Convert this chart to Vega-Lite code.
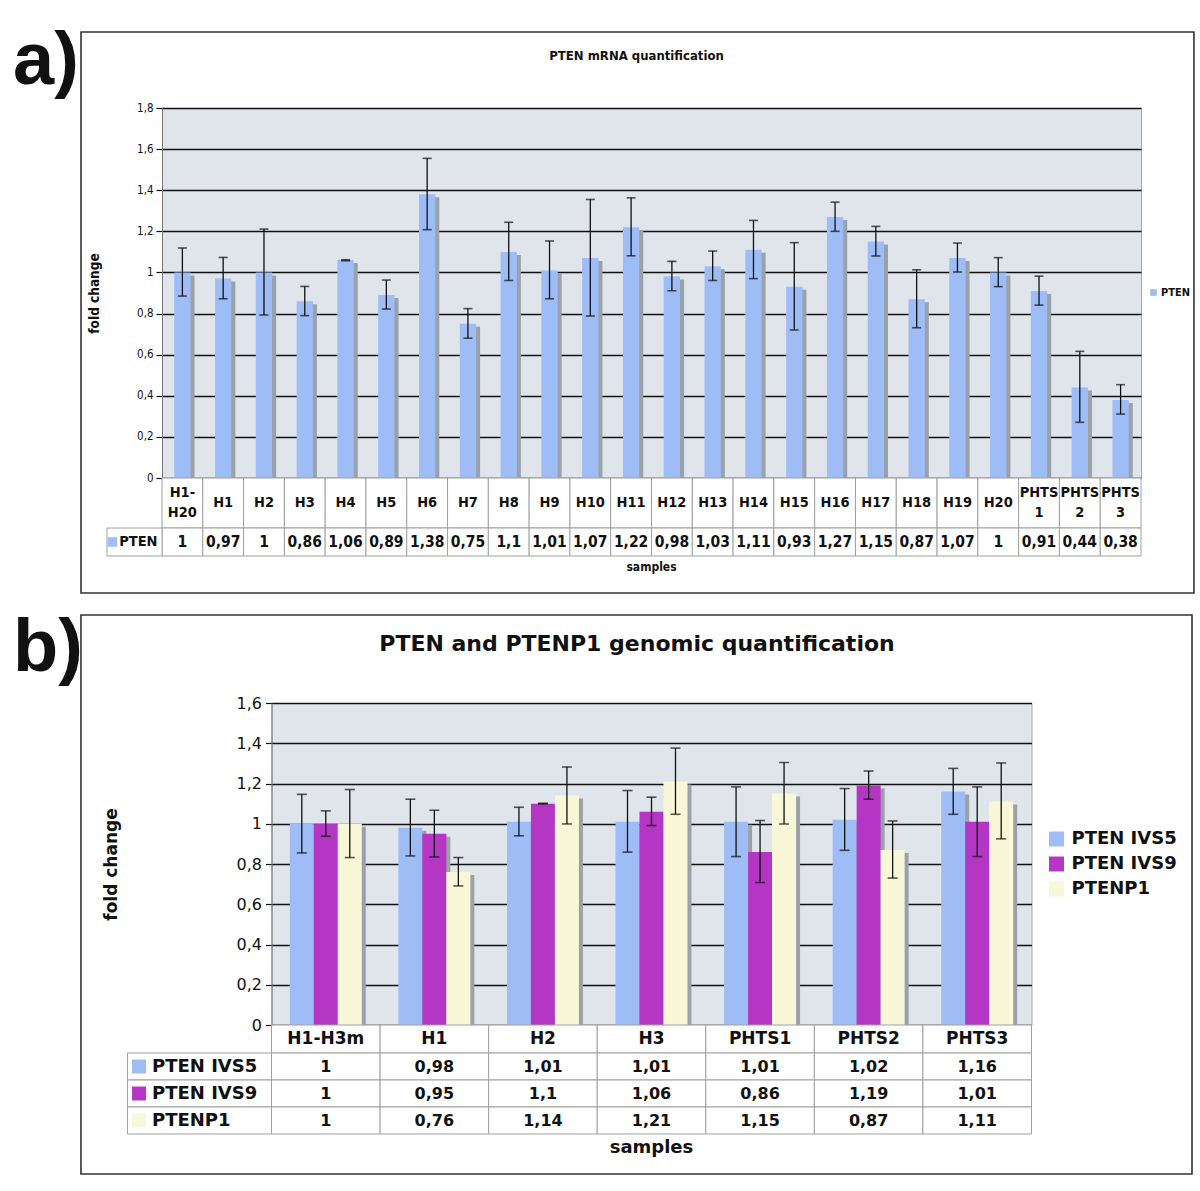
{
  "$schema": "https://vega.github.io/schema/vega-lite/v6.json",
  "padding": {"left": 12, "top": 24, "right": 4, "bottom": 4},
  "background": "#ffffff",
  "config": {
    "locale": {"number": {"decimal": ",", "thousands": ".", "grouping": [3], "currency": ["", " €"]}},
    "axis": {"labelColor": "#111111", "titleColor": "#111111"}
  },
  "datasets": {
    "mrna": [
      {"sample": "H1-\nH20", "value": 1, "lo": 0.885, "hi": 1.119},
      {"sample": "H1", "value": 0.97, "lo": 0.872, "hi": 1.073},
      {"sample": "H2", "value": 1, "lo": 0.793, "hi": 1.211},
      {"sample": "H3", "value": 0.86, "lo": 0.79, "hi": 0.932},
      {"sample": "H4", "value": 1.06, "lo": 1.057, "hi": 1.062},
      {"sample": "H5", "value": 0.89, "lo": 0.822, "hi": 0.963},
      {"sample": "H6", "value": 1.38, "lo": 1.208, "hi": 1.555},
      {"sample": "H7", "value": 0.75, "lo": 0.68, "hi": 0.824},
      {"sample": "H8", "value": 1.1, "lo": 0.961, "hi": 1.244},
      {"sample": "H9", "value": 1.01, "lo": 0.872, "hi": 1.153},
      {"sample": "H10", "value": 1.07, "lo": 0.788, "hi": 1.355},
      {"sample": "H11", "value": 1.22, "lo": 1.081, "hi": 1.363},
      {"sample": "H12", "value": 0.98, "lo": 0.911, "hi": 1.054},
      {"sample": "H13", "value": 1.03, "lo": 0.961, "hi": 1.104},
      {"sample": "H14", "value": 1.11, "lo": 0.97, "hi": 1.253},
      {"sample": "H15", "value": 0.93, "lo": 0.72, "hi": 1.145},
      {"sample": "H16", "value": 1.27, "lo": 1.2, "hi": 1.342},
      {"sample": "H17", "value": 1.15, "lo": 1.08, "hi": 1.224},
      {"sample": "H18", "value": 0.87, "lo": 0.731, "hi": 1.013},
      {"sample": "H19", "value": 1.07, "lo": 1.002, "hi": 1.143},
      {"sample": "H20", "value": 1, "lo": 0.931, "hi": 1.072},
      {"sample": "PHTS\n1", "value": 0.91, "lo": 0.841, "hi": 0.982},
      {"sample": "PHTS\n2", "value": 0.44, "lo": 0.271, "hi": 0.616},
      {"sample": "PHTS\n3", "value": 0.38, "lo": 0.311, "hi": 0.454}
    ],
    "geno": [
      {"sample": "H1-H3m", "series": "PTEN IVS5", "value": 1, "lo": 0.855, "hi": 1.146},
      {"sample": "H1-H3m", "series": "PTEN IVS9", "value": 1, "lo": 0.938, "hi": 1.064},
      {"sample": "H1-H3m", "series": "PTENP1", "value": 1, "lo": 0.832, "hi": 1.17},
      {"sample": "H1", "series": "PTEN IVS5", "value": 0.98, "lo": 0.84, "hi": 1.122},
      {"sample": "H1", "series": "PTEN IVS9", "value": 0.95, "lo": 0.835, "hi": 1.067},
      {"sample": "H1", "series": "PTENP1", "value": 0.76, "lo": 0.691, "hi": 0.832},
      {"sample": "H2", "series": "PTEN IVS5", "value": 1.01, "lo": 0.94, "hi": 1.082},
      {"sample": "H2", "series": "PTEN IVS9", "value": 1.1, "lo": 1.098, "hi": 1.102},
      {"sample": "H2", "series": "PTENP1", "value": 1.14, "lo": 0.999, "hi": 1.282},
      {"sample": "H3", "series": "PTEN IVS5", "value": 1.01, "lo": 0.859, "hi": 1.165},
      {"sample": "H3", "series": "PTEN IVS9", "value": 1.06, "lo": 0.991, "hi": 1.132},
      {"sample": "H3", "series": "PTENP1", "value": 1.21, "lo": 1.047, "hi": 1.376},
      {"sample": "PHTS1", "series": "PTEN IVS5", "value": 1.01, "lo": 0.837, "hi": 1.183},
      {"sample": "PHTS1", "series": "PTEN IVS9", "value": 0.86, "lo": 0.708, "hi": 1.016},
      {"sample": "PHTS1", "series": "PTENP1", "value": 1.15, "lo": 0.999, "hi": 1.304},
      {"sample": "PHTS2", "series": "PTEN IVS5", "value": 1.02, "lo": 0.868, "hi": 1.175},
      {"sample": "PHTS2", "series": "PTEN IVS9", "value": 1.19, "lo": 1.122, "hi": 1.262},
      {"sample": "PHTS2", "series": "PTENP1", "value": 0.87, "lo": 0.73, "hi": 1.014},
      {"sample": "PHTS3", "series": "PTEN IVS5", "value": 1.16, "lo": 1.047, "hi": 1.275},
      {"sample": "PHTS3", "series": "PTEN IVS9", "value": 1.01, "lo": 0.837, "hi": 1.183},
      {"sample": "PHTS3", "series": "PTENP1", "value": 1.11, "lo": 0.925, "hi": 1.302}
    ]
  },
  "bounds": "flush",
  "center": true,
  "spacing": 0,
  "resolve": {"scale": {"color": "independent"}},
  "vconcat": [
    {
      "width": 979, "height": 370,
      "view": {"fill": "#dfe5eb", "stroke": "#a9a9a9"},
      "layer": [
        {
          "data": {"values": [{"panel": "a)", "title": "PTEN mRNA quantification"}]},
          "layer": [
            {"mark": {"type": "rect", "filled": false, "color": "#333333", "strokeWidth": 1.6},
             "encoding": {
               "x": {"datum": -0.0827, "type": "quantitative", "scale": {"domain": [0, 1]}, "axis": null},
               "x2": {"datum": 1.0541},
               "y": {"datum": 2.1697, "type": "quantitative", "scale": {"domain": [0, 1.8], "nice": false}},
               "y2": {"datum": -0.5595}}},
            {"mark": {"type": "text", "align": "left", "baseline": "top", "font": "Liberation Sans", "fontWeight": "bold", "fontSize": 74, "color": "#111111"},
             "encoding": {
               "x": {"datum": -0.1522, "type": "quantitative"},
               "y": {"datum": 2.199, "type": "quantitative"},
               "text": {"field": "panel"}}},
            {"mark": {"type": "text", "align": "center", "baseline": "middle", "font": "DejaVu Sans Condensed, DejaVu Sans, sans-serif", "fontWeight": "bold", "fontSize": 13, "color": "#111111"},
             "encoding": {
               "x": {"datum": 0.4847, "type": "quantitative"},
               "y": {"datum": 2.053, "type": "quantitative"},
               "text": {"field": "title"}}}
          ]
        },
        {
          "data": {"name": "mrna"},
          "encoding": {
            "x": {"field": "sample", "type": "nominal", "sort": null, "axis": null, "scale": {"paddingInner": 0.6, "paddingOuter": 0.3}}
          },
          "layer": [
            {"mark": {"type": "bar", "color": "#9aa1a8", "xOffset": 4, "yOffset": 3},
             "encoding": {"y": {"field": "value", "type": "quantitative"}}},
            {"mark": {"type": "bar"},
             "encoding": {
               "y": {"field": "value", "type": "quantitative", "scale": {"domain": [0, 1.8], "nice": false},
                 "axis": {"values": [0, 0.2, 0.4, 0.6, 0.8, 1, 1.2, 1.4, 1.6, 1.8], "format": "~g", "grid": true, "gridColor": "#111111", "gridWidth": 1.5,
                   "tickColor": "#111111", "tickSize": 6, "tickWidth": 1.2, "domainColor": "#777777",
                   "labelFont": "DejaVu Sans Condensed, DejaVu Sans, sans-serif", "labelFontSize": 11.5, "labelPadding": 3,
                   "title": "fold change", "titleFont": "DejaVu Sans Condensed, DejaVu Sans, sans-serif", "titleFontWeight": "bold", "titleFontSize": 13.5, "titlePadding": 35}},
               "color": {"datum": "PTEN", "type": "nominal", "scale": {"range": ["#9ebdf6"]},
                 "legend": {"orient": "none", "legendX": 986, "legendY": 179, "title": null, "symbolType": "square", "symbolSize": 45, "symbolStrokeWidth": 0,
                   "labelFont": "DejaVu Sans Condensed, DejaVu Sans, sans-serif", "labelFontWeight": "bold", "labelFontSize": 11, "labelOffset": 2, "labelColor": "#111111", "padding": 0}}}},
            {"mark": {"type": "rule", "color": "#111111", "strokeWidth": 1.3},
             "encoding": {"y": {"field": "lo", "type": "quantitative"}, "y2": {"field": "hi"}}},
            {"mark": {"type": "tick", "color": "#111111", "thickness": 1.6, "size": 9},
             "encoding": {"y": {"field": "hi", "type": "quantitative"}}},
            {"mark": {"type": "tick", "color": "#111111", "thickness": 1.6, "size": 9},
             "encoding": {"y": {"field": "lo", "type": "quantitative"}}}
          ]
        }
      ],
      "resolve": {"scale": {"x": "independent"}}
    },
    {
      "width": 979, "height": 50,
      "data": {"name": "mrna"},
      "view": {"stroke": null},
      "encoding": {"x": {"field": "sample", "type": "nominal", "sort": null, "axis": null, "scale": {"paddingInner": 0, "paddingOuter": 0}}},
      "layer": [
        {"mark": {"type": "rect", "fill": "#ffffff", "stroke": "#a0a0a0", "strokeWidth": 1}},
        {"transform": [{"filter": "indexof(datum.sample, '\\n') < 0"}],
         "mark": {"type": "text", "baseline": "middle", "font": "DejaVu Sans Condensed, DejaVu Sans, sans-serif", "fontWeight": "bold", "fontSize": 14.5, "color": "#111111"},
         "encoding": {"text": {"field": "sample"}}},
        {"transform": [{"filter": "indexof(datum.sample, '\\n') >= 0"}],
         "mark": {"type": "text", "baseline": "middle", "lineBreak": "\n", "lineHeight": 20, "dy": -10, "font": "DejaVu Sans Condensed, DejaVu Sans, sans-serif", "fontWeight": "bold", "fontSize": 14.5, "color": "#111111"},
         "encoding": {"text": {"field": "sample"}}}
      ]
    },
    {
      "width": 979, "height": 28,
      "view": {"stroke": null},
      "title": {"text": "samples", "orient": "bottom", "offset": 5, "font": "DejaVu Sans Condensed, DejaVu Sans, sans-serif", "fontWeight": "bold", "fontSize": 12, "color": "#111111"},
      "layer": [
        {
          "data": {"name": "mrna"},
          "encoding": {"x": {"field": "sample", "type": "nominal", "sort": null, "axis": null, "scale": {"paddingInner": 0, "paddingOuter": 0}}},
          "layer": [
            {"mark": {"type": "rect", "fill": "#ffffff", "stroke": "#a0a0a0", "strokeWidth": 1}},
            {"mark": {"type": "text", "baseline": "middle", "font": "DejaVu Sans Condensed, DejaVu Sans, sans-serif", "fontWeight": "bold", "fontSize": 15.5, "color": "#111111"},
             "encoding": {"text": {"field": "value", "type": "quantitative", "format": "~g"}}}
          ]
        },
        {
          "data": {"values": [{"series": "PTEN"}]},
          "layer": [
            {"mark": {"type": "rect", "fill": "#ffffff", "stroke": "#a0a0a0", "strokeWidth": 1},
             "encoding": {"x": {"datum": -0.0562, "type": "quantitative", "scale": {"domain": [0, 1]}, "axis": null}, "x2": {"datum": 0}}},
            {"mark": {"type": "point", "shape": "square", "filled": true, "size": 90, "color": "#9ebdf6", "opacity": 1, "strokeWidth": 0},
             "encoding": {"x": {"datum": -0.0506, "type": "quantitative"}}},
            {"mark": {"type": "text", "align": "left", "baseline": "middle", "font": "DejaVu Sans Condensed, DejaVu Sans, sans-serif", "fontWeight": "bold", "fontSize": 14.5, "color": "#111111"},
             "encoding": {"x": {"datum": -0.0437, "type": "quantitative"}, "text": {"field": "series"}}}
          ]
        }
      ],
      "resolve": {"scale": {"x": "independent"}}
    },
    {"width": 1, "height": 147, "data": {"values": []}, "mark": "text", "view": {"stroke": null}},
    {
      "width": 760, "height": 322,
      "view": {"fill": "#dfe5eb", "stroke": "#a9a9a9"},
      "layer": [
        {
          "data": {"values": [{"panel": "b)", "title": "PTEN and PTENP1 genomic quantification"}]},
          "layer": [
            {"mark": {"type": "rect", "filled": false, "color": "#333333", "strokeWidth": 1.6},
             "encoding": {
               "x": {"datum": -0.2507, "type": "quantitative", "scale": {"domain": [0, 1]}, "axis": null},
               "x2": {"datum": 1.2112},
               "y": {"datum": 2.0373, "type": "quantitative", "scale": {"domain": [0, 1.6], "nice": false}},
               "y2": {"datum": -0.7404}}},
            {"mark": {"type": "text", "align": "left", "baseline": "top", "font": "Liberation Sans", "fontWeight": "bold", "fontSize": 74, "color": "#111111"},
             "encoding": {
               "x": {"datum": -0.3401, "type": "quantitative"},
               "y": {"datum": 2.0472, "type": "quantitative"},
               "text": {"field": "panel"}}},
            {"mark": {"type": "text", "align": "center", "baseline": "middle", "font": "DejaVu Sans, Verdana, sans-serif", "fontWeight": "bold", "fontSize": 22, "color": "#111111"},
             "encoding": {
               "x": {"datum": 0.4809, "type": "quantitative"},
               "y": {"datum": 1.8932, "type": "quantitative"},
               "text": {"field": "title"}}}
          ]
        },
        {
          "data": {"name": "geno"},
          "mark": {"type": "bar", "color": "#9aa1a8", "yOffset": 3},
          "encoding": {
            "x": {"field": "sample", "type": "nominal", "sort": null, "axis": null, "scale": {"paddingInner": 0.337, "paddingOuter": 0.1685, "align": 0.609}},
            "xOffset": {"field": "series", "type": "nominal", "sort": ["PTEN IVS5", "PTEN IVS9", "PTENP1"], "scale": {"paddingInner": 0, "paddingOuter": 0}},
            "y": {"field": "value", "type": "quantitative"}
          }
        },
        {
          "data": {"name": "geno"},
          "encoding": {
            "x": {"field": "sample", "type": "nominal", "sort": null, "axis": null, "scale": {"paddingInner": 0.337, "paddingOuter": 0.1685}},
            "xOffset": {"field": "series", "type": "nominal", "sort": ["PTEN IVS5", "PTEN IVS9", "PTENP1"], "scale": {"paddingInner": 0, "paddingOuter": 0}}
          },
          "layer": [
            {"mark": {"type": "bar"},
             "encoding": {
               "y": {"field": "value", "type": "quantitative", "scale": {"domain": [0, 1.6], "nice": false},
                 "axis": {"values": [0, 0.2, 0.4, 0.6, 0.8, 1, 1.2, 1.4, 1.6], "format": "~g", "grid": true, "gridColor": "#111111", "gridWidth": 1.5,
                   "tickColor": "#111111", "tickSize": 6, "tickWidth": 1.2, "domainColor": "#777777",
                   "labelFont": "DejaVu Sans, Verdana, sans-serif", "labelFontSize": 16, "labelPadding": 4,
                   "title": "fold change", "titleFont": "DejaVu Sans, Verdana, sans-serif", "titleFontWeight": "bold", "titleFontSize": 17, "titlePadding": 116}},
               "color": {"field": "series", "type": "nominal", "scale": {"domain": ["PTEN IVS5", "PTEN IVS9", "PTENP1"], "range": ["#9ebdf6", "#b536c4", "#f8f8d8"]},
                 "legend": {"orient": "none", "legendX": 776, "legendY": 127, "title": null, "symbolType": "square", "symbolSize": 225, "symbolStrokeWidth": 0,
                   "labelFont": "DejaVu Sans, Verdana, sans-serif", "labelFontWeight": "bold", "labelFontSize": 18, "labelOffset": 6, "rowPadding": 7, "labelColor": "#111111", "padding": 0}}}},
            {"mark": {"type": "rule", "color": "#111111", "strokeWidth": 1.3},
             "encoding": {"y": {"field": "lo", "type": "quantitative"}, "y2": {"field": "hi"}}},
            {"mark": {"type": "tick", "color": "#111111", "thickness": 1.6, "size": 10},
             "encoding": {"y": {"field": "hi", "type": "quantitative"}}},
            {"mark": {"type": "tick", "color": "#111111", "thickness": 1.6, "size": 10},
             "encoding": {"y": {"field": "lo", "type": "quantitative"}}}
          ]
        }
      ],
      "resolve": {"scale": {"x": "independent", "xOffset": "independent"}}
    },
    {
      "width": 760, "height": 28,
      "data": {"name": "geno"},
      "transform": [{"filter": "datum.series === 'PTEN IVS5'"}],
      "view": {"stroke": null},
      "encoding": {"x": {"field": "sample", "type": "nominal", "sort": null, "axis": null, "scale": {"paddingInner": 0, "paddingOuter": 0}}},
      "layer": [
        {"mark": {"type": "rect", "fill": "#ffffff", "stroke": "#a0a0a0", "strokeWidth": 1}},
        {"mark": {"type": "text", "baseline": "middle", "font": "DejaVu Sans, Verdana, sans-serif", "fontWeight": "bold", "fontSize": 17, "color": "#111111"},
         "encoding": {"text": {"field": "sample"}}}
      ]
    },
    {
      "width": 760, "height": 81,
      "view": {"stroke": null},
      "title": {"text": "samples", "orient": "bottom", "offset": 4, "font": "DejaVu Sans, Verdana, sans-serif", "fontWeight": "bold", "fontSize": 18, "color": "#111111"},
      "encoding": {
        "y": {"field": "series", "type": "nominal", "sort": ["PTEN IVS5", "PTEN IVS9", "PTENP1"], "axis": null, "scale": {"paddingInner": 0, "paddingOuter": 0}}
      },
      "layer": [
        {
          "data": {"name": "geno"},
          "encoding": {"x": {"field": "sample", "type": "nominal", "sort": null, "axis": null, "scale": {"paddingInner": 0, "paddingOuter": 0}}},
          "layer": [
            {"mark": {"type": "rect", "fill": "#ffffff", "stroke": "#a0a0a0", "strokeWidth": 1}},
            {"mark": {"type": "text", "baseline": "middle", "font": "DejaVu Sans, Verdana, sans-serif", "fontWeight": "bold", "fontSize": 16, "color": "#111111"},
             "encoding": {"text": {"field": "value", "type": "quantitative", "format": "~g"}}}
          ]
        },
        {
          "data": {"values": [{"series": "PTEN IVS5"}, {"series": "PTEN IVS9"}, {"series": "PTENP1"}]},
          "layer": [
            {"mark": {"type": "rect", "fill": "#ffffff", "stroke": "#a0a0a0", "strokeWidth": 1},
             "encoding": {"x": {"datum": -0.1895, "type": "quantitative", "scale": {"domain": [0, 1]}, "axis": null}, "x2": {"datum": 0}}},
            {"mark": {"type": "point", "shape": "square", "filled": true, "size": 196, "opacity": 1, "strokeWidth": 0},
             "encoding": {"x": {"datum": -0.1743, "type": "quantitative"},
               "color": {"field": "series", "type": "nominal", "scale": {"domain": ["PTEN IVS5", "PTEN IVS9", "PTENP1"], "range": ["#9ebdf6", "#b536c4", "#f8f8d8"]}, "legend": null}}},
            {"mark": {"type": "text", "align": "left", "baseline": "middle", "font": "DejaVu Sans, Verdana, sans-serif", "fontWeight": "bold", "fontSize": 18, "color": "#111111"},
             "encoding": {"x": {"datum": -0.1572, "type": "quantitative"}, "text": {"field": "series"}}}
          ]
        }
      ],
      "resolve": {"scale": {"x": "independent"}}
    }
  ]
}
